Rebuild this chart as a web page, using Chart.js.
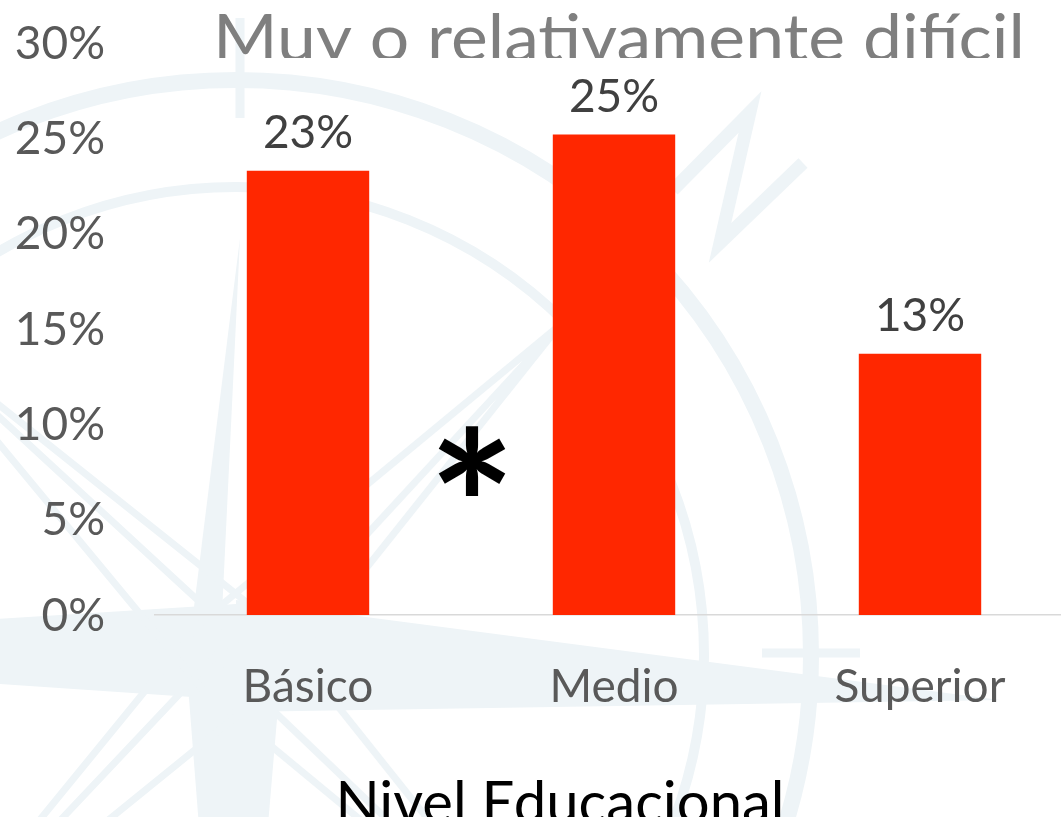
<!DOCTYPE html>
<html><head><meta charset="utf-8">
<script src="https://cdn.jsdelivr.net/npm/chart.js@4.4.1/dist/chart.umd.min.js"></script>
<style>
html,body{margin:0;padding:0;background:#fff;overflow:hidden;width:1061px;height:817px;}
#wrap{position:absolute;left:0;top:0;width:1080px;height:817px;}
canvas{display:block;}
</style></head><body>
<div id="wrap"><canvas id="c" width="1080" height="817" style="width:1080px;height:817px"></canvas></div>
<script>
// ---- data ----
const categories = ['Básico', 'Medio', 'Superior'];
const values = [23.3, 25.2, 13.7];
const valueLabels = ['23%', '25%', '13%'];
const yTicks = [0, 5, 10, 15, 20, 25, 30];
const chartTitle = 'Muy o relativamente difícil';
const xAxisTitle = 'Nivel Educacional';
const significanceMark = '*';

const FONT = 'Lato';
const WM = '#eef4f7';

// faint compass watermark behind the chart
const watermark = {
  id: 'watermark',
  beforeDraw(chart) {
    const ctx = chart.ctx;
    const cx = 236, cy = 655;
    ctx.save();
    ctx.fillStyle = '#ffffff';
    ctx.fillRect(0, 0, chart.width, chart.height);
    ctx.strokeStyle = WM; ctx.fillStyle = WM;
    ctx.lineWidth = 16; ctx.beginPath(); ctx.arc(cx, cy, 575, 0, Math.PI * 2); ctx.stroke();
    ctx.lineWidth = 10; ctx.beginPath(); ctx.arc(cx, cy, 468, 0, Math.PI * 2); ctx.stroke();
    ctx.lineWidth = 9;
    ctx.beginPath(); ctx.moveTo(cx + 4, 18); ctx.lineTo(cx + 4, 118); ctx.stroke();
    ctx.beginPath(); ctx.moveTo(762, cy - 2); ctx.lineTo(860, cy - 2); ctx.stroke();
    const poly = (pts) => { ctx.beginPath(); ctx.moveTo(pts[0][0], pts[0][1]); for (let i = 1; i < pts.length; i++) ctx.lineTo(pts[i][0], pts[i][1]); ctx.closePath(); ctx.fill(); };
    poly([[cx, 600], [1000, 700], [cx, 712]]);
    poly([[cx, 604], [-500, 650], [cx, 700]]);
    poly([[188, cy], [240, 238], [220, cy]]);
    poly([[186, 660], [232, 1250], [282, 660]]);
    ctx.lineWidth = 7;
    const diag = [[560, 325], [-95, 330], [560, 985], [-95, 985]];
    diag.forEach(([ax, ay]) => {
      const dx = ax - cx, dy = ay - cy, L = Math.hypot(dx, dy);
      const px = -dy / L * 48, py = dx / L * 48;
      ctx.beginPath();
      ctx.moveTo(cx + px, cy + py); ctx.lineTo(ax, ay); ctx.lineTo(cx - px, cy - py);
      ctx.moveTo(cx + px * 0.3, cy + py * 0.3); ctx.lineTo(ax, ay);
      ctx.stroke();
    });
    ctx.lineWidth = 13; ctx.lineJoin = 'miter';
    ctx.beginPath(); ctx.moveTo(673, 190); ctx.lineTo(750, 112); ctx.lineTo(720, 243); ctx.lineTo(803, 163); ctx.stroke();
    ctx.restore();
  }
};

// clipped chart title, axis title, value labels, significance mark
const overlays = {
  id: 'overlays',
  afterDatasetsDraw(chart) {
    const ctx = chart.ctx;
    const meta = chart.getDatasetMeta(0);
    ctx.save();
    ctx.font = `46px ${FONT}`;
    ctx.fillStyle = '#404040';
    ctx.textAlign = 'center';
    ctx.textBaseline = 'alphabetic';
    meta.data.forEach((bar, i) => ctx.fillText(valueLabels[i], bar.x, bar.y - 23));
    ctx.restore();

    // chart title (cut off at its bottom like the reference)
    ctx.save();
    ctx.beginPath(); ctx.rect(0, 0, chart.width, 58); ctx.clip();
    ctx.font = `66px ${FONT}`;
    ctx.fillStyle = '#7f7f7f';
    ctx.textAlign = 'center';
    ctx.textBaseline = 'alphabetic';
    const w = ctx.measureText(chartTitle).width;
    ctx.translate(619, 61);
    ctx.scale(812 / w, 1);
    ctx.fillText(chartTitle, 0, 0);
    ctx.restore();

    // x axis title
    ctx.save();
    ctx.font = `58px ${FONT}`;
    ctx.fillStyle = '#000000';
    ctx.textAlign = 'center';
    ctx.textBaseline = 'alphabetic';
    ctx.fillText(xAxisTitle, 560, 823);
    ctx.restore();

    // asterisk between first and second bar
    const xs = chart.scales.x, ys = chart.scales.y;
    const p0 = xs.getPixelForValue(0), p1 = xs.getPixelForValue(1);
    const mx = p0 + (p1 - p0) * 0.535;
    const my = ys.getPixelForValue(8.1);
    ctx.save();
    ctx.font = `bold 100px ${FONT}`;
    let m = ctx.measureText(significanceMark);
    const h0 = m.actualBoundingBoxAscent + m.actualBoundingBoxDescent;
    const fs = 100 * 70 / h0;
    ctx.font = `bold ${fs}px ${FONT}`;
    m = ctx.measureText(significanceMark);
    ctx.fillStyle = '#000';
    ctx.textAlign = 'left';
    ctx.textBaseline = 'alphabetic';
    const x0 = mx - (m.actualBoundingBoxRight - m.actualBoundingBoxLeft) / 2;
    const y0 = my + (m.actualBoundingBoxAscent - m.actualBoundingBoxDescent) / 2;
    ctx.fillText(significanceMark, x0, y0);
    ctx.restore();
  }
};

new Chart(document.getElementById('c'), {
  type: 'bar',
  data: {
    labels: categories,
    datasets: [{
      data: values,
      backgroundColor: '#ff2700',
      borderWidth: 0,
      barPercentage: 0.4,
      categoryPercentage: 1.0
    }]
  },
  options: {
    responsive: false,
    animation: false,
    events: [],
    layout: { padding: { left: 0, top: 43, right: 7, bottom: 0 } },
    plugins: { legend: { display: false }, tooltip: { enabled: false }, title: { display: false } },
    scales: {
      x: {
        grid: { display: false, drawTicks: false },
        border: { display: true, color: '#d9d9d9', width: 1.5 },
        ticks: { color: '#595959', font: { family: FONT, size: 46 }, padding: 45, maxRotation: 0 },
        afterFit(s) { s.height = 202; }
      },
      y: {
        min: 0, max: 30,
        grid: { display: false, drawTicks: false },
        border: { display: false },
        afterBuildTicks(s) { s.ticks = yTicks.map(v => ({ value: v })); },
        ticks: { color: '#595959', font: { family: FONT, size: 46 }, padding: 50, labelOffset: 1, callback: v => v + '%' },
        afterFit(s) { s.width = 155; s.paddingTop = 0; s.paddingBottom = 0; }
      }
    }
  },
  plugins: [watermark, overlays]
});
</script>
</body></html>
